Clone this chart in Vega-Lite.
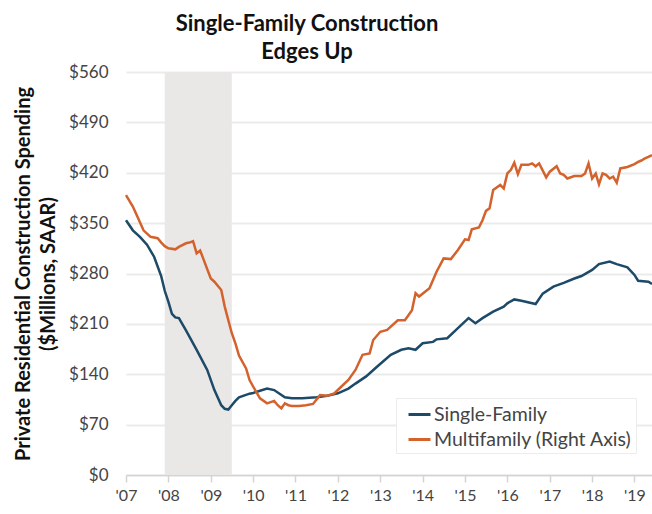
{
  "$schema": "https://vega.github.io/schema/vega-lite/v6.json",
  "width": 526,
  "height": 403,
  "autosize": {"type": "none"},
  "padding": {"left": 126, "top": 72, "right": 0, "bottom": 39},
  "background": "white",
  "config": {"view": {"stroke": null}, "font": "Lato"},
  "title": {
    "text": ["Single-Family Construction", "Edges Up"],
    "font": "Lato", "fontSize": 22, "fontWeight": "bold", "color": "#111111",
    "anchor": "middle", "frame": "group", "dx": -82, "lineHeight": 28, "offset": -1
  },
  "datasets": {
    "lines": [
      {"date": "2007-01-01", "series": "Single-Family", "value": 354},
      {"date": "2007-03-01", "series": "Single-Family", "value": 340},
      {"date": "2007-05-01", "series": "Single-Family", "value": 331},
      {"date": "2007-07-01", "series": "Single-Family", "value": 320},
      {"date": "2007-09-01", "series": "Single-Family", "value": 303},
      {"date": "2007-11-01", "series": "Single-Family", "value": 276},
      {"date": "2007-12-01", "series": "Single-Family", "value": 256},
      {"date": "2008-01-01", "series": "Single-Family", "value": 241},
      {"date": "2008-02-01", "series": "Single-Family", "value": 224},
      {"date": "2008-03-01", "series": "Single-Family", "value": 219},
      {"date": "2008-04-01", "series": "Single-Family", "value": 218},
      {"date": "2008-06-01", "series": "Single-Family", "value": 201},
      {"date": "2008-09-01", "series": "Single-Family", "value": 174},
      {"date": "2008-12-01", "series": "Single-Family", "value": 146},
      {"date": "2009-02-01", "series": "Single-Family", "value": 118},
      {"date": "2009-04-01", "series": "Single-Family", "value": 97},
      {"date": "2009-05-01", "series": "Single-Family", "value": 92},
      {"date": "2009-06-01", "series": "Single-Family", "value": 91},
      {"date": "2009-07-01", "series": "Single-Family", "value": 97},
      {"date": "2009-08-01", "series": "Single-Family", "value": 103},
      {"date": "2009-09-01", "series": "Single-Family", "value": 108},
      {"date": "2009-12-01", "series": "Single-Family", "value": 113},
      {"date": "2010-01-01", "series": "Single-Family", "value": 114},
      {"date": "2010-03-01", "series": "Single-Family", "value": 117},
      {"date": "2010-05-01", "series": "Single-Family", "value": 120},
      {"date": "2010-07-01", "series": "Single-Family", "value": 118},
      {"date": "2010-10-01", "series": "Single-Family", "value": 108},
      {"date": "2010-12-01", "series": "Single-Family", "value": 106.5},
      {"date": "2011-03-01", "series": "Single-Family", "value": 106.5},
      {"date": "2011-07-01", "series": "Single-Family", "value": 108},
      {"date": "2011-10-01", "series": "Single-Family", "value": 110},
      {"date": "2012-01-01", "series": "Single-Family", "value": 113.5},
      {"date": "2012-04-01", "series": "Single-Family", "value": 120},
      {"date": "2012-06-01", "series": "Single-Family", "value": 127},
      {"date": "2012-09-01", "series": "Single-Family", "value": 137},
      {"date": "2012-12-01", "series": "Single-Family", "value": 150},
      {"date": "2013-04-01", "series": "Single-Family", "value": 167},
      {"date": "2013-07-01", "series": "Single-Family", "value": 174},
      {"date": "2013-09-01", "series": "Single-Family", "value": 176},
      {"date": "2013-11-01", "series": "Single-Family", "value": 174},
      {"date": "2014-01-01", "series": "Single-Family", "value": 183},
      {"date": "2014-04-01", "series": "Single-Family", "value": 185},
      {"date": "2014-05-01", "series": "Single-Family", "value": 188.5},
      {"date": "2014-08-01", "series": "Single-Family", "value": 190},
      {"date": "2014-11-01", "series": "Single-Family", "value": 204},
      {"date": "2015-02-01", "series": "Single-Family", "value": 218},
      {"date": "2015-04-01", "series": "Single-Family", "value": 211},
      {"date": "2015-06-01", "series": "Single-Family", "value": 218},
      {"date": "2015-09-01", "series": "Single-Family", "value": 227},
      {"date": "2015-12-01", "series": "Single-Family", "value": 234},
      {"date": "2016-01-01", "series": "Single-Family", "value": 238.6},
      {"date": "2016-03-01", "series": "Single-Family", "value": 244},
      {"date": "2016-05-01", "series": "Single-Family", "value": 242},
      {"date": "2016-09-01", "series": "Single-Family", "value": 237.6},
      {"date": "2016-11-01", "series": "Single-Family", "value": 252},
      {"date": "2017-02-01", "series": "Single-Family", "value": 261.7},
      {"date": "2017-05-01", "series": "Single-Family", "value": 267},
      {"date": "2017-08-01", "series": "Single-Family", "value": 273},
      {"date": "2017-10-01", "series": "Single-Family", "value": 276.5},
      {"date": "2018-01-01", "series": "Single-Family", "value": 285},
      {"date": "2018-03-01", "series": "Single-Family", "value": 293},
      {"date": "2018-06-01", "series": "Single-Family", "value": 296.5},
      {"date": "2018-08-01", "series": "Single-Family", "value": 293},
      {"date": "2018-11-01", "series": "Single-Family", "value": 288.6},
      {"date": "2019-01-01", "series": "Single-Family", "value": 278},
      {"date": "2019-02-01", "series": "Single-Family", "value": 270},
      {"date": "2019-05-01", "series": "Single-Family", "value": 268.6},
      {"date": "2019-06-01", "series": "Single-Family", "value": 265.4},
      {"date": "2007-01-01", "series": "Multifamily (Right Axis)", "value": 389},
      {"date": "2007-03-01", "series": "Multifamily (Right Axis)", "value": 373},
      {"date": "2007-04-01", "series": "Multifamily (Right Axis)", "value": 362},
      {"date": "2007-06-01", "series": "Multifamily (Right Axis)", "value": 340},
      {"date": "2007-08-01", "series": "Multifamily (Right Axis)", "value": 331},
      {"date": "2007-10-01", "series": "Multifamily (Right Axis)", "value": 329},
      {"date": "2007-11-01", "series": "Multifamily (Right Axis)", "value": 323},
      {"date": "2007-12-01", "series": "Multifamily (Right Axis)", "value": 318},
      {"date": "2008-01-01", "series": "Multifamily (Right Axis)", "value": 315},
      {"date": "2008-03-01", "series": "Multifamily (Right Axis)", "value": 313.6},
      {"date": "2008-04-01", "series": "Multifamily (Right Axis)", "value": 317},
      {"date": "2008-06-01", "series": "Multifamily (Right Axis)", "value": 322},
      {"date": "2008-07-01", "series": "Multifamily (Right Axis)", "value": 323},
      {"date": "2008-08-01", "series": "Multifamily (Right Axis)", "value": 325},
      {"date": "2008-09-01", "series": "Multifamily (Right Axis)", "value": 308},
      {"date": "2008-10-01", "series": "Multifamily (Right Axis)", "value": 312},
      {"date": "2008-11-01", "series": "Multifamily (Right Axis)", "value": 299},
      {"date": "2008-12-01", "series": "Multifamily (Right Axis)", "value": 286},
      {"date": "2009-01-01", "series": "Multifamily (Right Axis)", "value": 273},
      {"date": "2009-02-01", "series": "Multifamily (Right Axis)", "value": 268.6},
      {"date": "2009-04-01", "series": "Multifamily (Right Axis)", "value": 257},
      {"date": "2009-05-01", "series": "Multifamily (Right Axis)", "value": 234},
      {"date": "2009-06-01", "series": "Multifamily (Right Axis)", "value": 215},
      {"date": "2009-07-01", "series": "Multifamily (Right Axis)", "value": 197},
      {"date": "2009-08-01", "series": "Multifamily (Right Axis)", "value": 183},
      {"date": "2009-09-01", "series": "Multifamily (Right Axis)", "value": 166},
      {"date": "2009-11-01", "series": "Multifamily (Right Axis)", "value": 148},
      {"date": "2009-12-01", "series": "Multifamily (Right Axis)", "value": 132},
      {"date": "2010-01-01", "series": "Multifamily (Right Axis)", "value": 123},
      {"date": "2010-03-01", "series": "Multifamily (Right Axis)", "value": 106.5},
      {"date": "2010-05-01", "series": "Multifamily (Right Axis)", "value": 99.6},
      {"date": "2010-07-01", "series": "Multifamily (Right Axis)", "value": 103},
      {"date": "2010-08-01", "series": "Multifamily (Right Axis)", "value": 97},
      {"date": "2010-09-01", "series": "Multifamily (Right Axis)", "value": 92.6},
      {"date": "2010-10-01", "series": "Multifamily (Right Axis)", "value": 99.6},
      {"date": "2010-11-01", "series": "Multifamily (Right Axis)", "value": 97},
      {"date": "2010-12-01", "series": "Multifamily (Right Axis)", "value": 96},
      {"date": "2011-02-01", "series": "Multifamily (Right Axis)", "value": 96},
      {"date": "2011-04-01", "series": "Multifamily (Right Axis)", "value": 97},
      {"date": "2011-06-01", "series": "Multifamily (Right Axis)", "value": 98.7},
      {"date": "2011-08-01", "series": "Multifamily (Right Axis)", "value": 111},
      {"date": "2011-10-01", "series": "Multifamily (Right Axis)", "value": 110},
      {"date": "2011-12-01", "series": "Multifamily (Right Axis)", "value": 113.5},
      {"date": "2012-02-01", "series": "Multifamily (Right Axis)", "value": 123},
      {"date": "2012-04-01", "series": "Multifamily (Right Axis)", "value": 132},
      {"date": "2012-06-01", "series": "Multifamily (Right Axis)", "value": 146},
      {"date": "2012-08-01", "series": "Multifamily (Right Axis)", "value": 167},
      {"date": "2012-10-01", "series": "Multifamily (Right Axis)", "value": 169},
      {"date": "2012-11-01", "series": "Multifamily (Right Axis)", "value": 187.6},
      {"date": "2013-01-01", "series": "Multifamily (Right Axis)", "value": 199},
      {"date": "2013-03-01", "series": "Multifamily (Right Axis)", "value": 201.5},
      {"date": "2013-06-01", "series": "Multifamily (Right Axis)", "value": 215},
      {"date": "2013-08-01", "series": "Multifamily (Right Axis)", "value": 215},
      {"date": "2013-10-01", "series": "Multifamily (Right Axis)", "value": 229},
      {"date": "2013-11-01", "series": "Multifamily (Right Axis)", "value": 252.5},
      {"date": "2013-12-01", "series": "Multifamily (Right Axis)", "value": 248},
      {"date": "2014-03-01", "series": "Multifamily (Right Axis)", "value": 259.4},
      {"date": "2014-05-01", "series": "Multifamily (Right Axis)", "value": 282.5},
      {"date": "2014-07-01", "series": "Multifamily (Right Axis)", "value": 301},
      {"date": "2014-09-01", "series": "Multifamily (Right Axis)", "value": 300},
      {"date": "2014-11-01", "series": "Multifamily (Right Axis)", "value": 312.7},
      {"date": "2015-01-01", "series": "Multifamily (Right Axis)", "value": 327.5},
      {"date": "2015-02-01", "series": "Multifamily (Right Axis)", "value": 326.6},
      {"date": "2015-03-01", "series": "Multifamily (Right Axis)", "value": 341.4},
      {"date": "2015-05-01", "series": "Multifamily (Right Axis)", "value": 344},
      {"date": "2015-06-01", "series": "Multifamily (Right Axis)", "value": 354},
      {"date": "2015-07-01", "series": "Multifamily (Right Axis)", "value": 367},
      {"date": "2015-08-01", "series": "Multifamily (Right Axis)", "value": 370.6},
      {"date": "2015-09-01", "series": "Multifamily (Right Axis)", "value": 396},
      {"date": "2015-11-01", "series": "Multifamily (Right Axis)", "value": 403},
      {"date": "2015-12-01", "series": "Multifamily (Right Axis)", "value": 398},
      {"date": "2016-01-01", "series": "Multifamily (Right Axis)", "value": 419},
      {"date": "2016-02-01", "series": "Multifamily (Right Axis)", "value": 424},
      {"date": "2016-03-01", "series": "Multifamily (Right Axis)", "value": 434},
      {"date": "2016-04-01", "series": "Multifamily (Right Axis)", "value": 418},
      {"date": "2016-05-01", "series": "Multifamily (Right Axis)", "value": 431},
      {"date": "2016-07-01", "series": "Multifamily (Right Axis)", "value": 431},
      {"date": "2016-08-01", "series": "Multifamily (Right Axis)", "value": 433},
      {"date": "2016-09-01", "series": "Multifamily (Right Axis)", "value": 429},
      {"date": "2016-10-01", "series": "Multifamily (Right Axis)", "value": 433},
      {"date": "2016-12-01", "series": "Multifamily (Right Axis)", "value": 413.6},
      {"date": "2017-01-01", "series": "Multifamily (Right Axis)", "value": 421.5},
      {"date": "2017-03-01", "series": "Multifamily (Right Axis)", "value": 429},
      {"date": "2017-04-01", "series": "Multifamily (Right Axis)", "value": 419},
      {"date": "2017-05-01", "series": "Multifamily (Right Axis)", "value": 417},
      {"date": "2017-06-01", "series": "Multifamily (Right Axis)", "value": 412},
      {"date": "2017-08-01", "series": "Multifamily (Right Axis)", "value": 415.5},
      {"date": "2017-10-01", "series": "Multifamily (Right Axis)", "value": 415.5},
      {"date": "2017-11-01", "series": "Multifamily (Right Axis)", "value": 419},
      {"date": "2017-12-01", "series": "Multifamily (Right Axis)", "value": 433},
      {"date": "2018-01-01", "series": "Multifamily (Right Axis)", "value": 412},
      {"date": "2018-02-01", "series": "Multifamily (Right Axis)", "value": 419},
      {"date": "2018-03-01", "series": "Multifamily (Right Axis)", "value": 404},
      {"date": "2018-04-01", "series": "Multifamily (Right Axis)", "value": 419},
      {"date": "2018-05-01", "series": "Multifamily (Right Axis)", "value": 417},
      {"date": "2018-06-01", "series": "Multifamily (Right Axis)", "value": 412},
      {"date": "2018-07-01", "series": "Multifamily (Right Axis)", "value": 414.5},
      {"date": "2018-08-01", "series": "Multifamily (Right Axis)", "value": 406},
      {"date": "2018-09-01", "series": "Multifamily (Right Axis)", "value": 426},
      {"date": "2018-11-01", "series": "Multifamily (Right Axis)", "value": 428},
      {"date": "2019-01-01", "series": "Multifamily (Right Axis)", "value": 432},
      {"date": "2019-02-01", "series": "Multifamily (Right Axis)", "value": 435},
      {"date": "2019-03-01", "series": "Multifamily (Right Axis)", "value": 437},
      {"date": "2019-04-01", "series": "Multifamily (Right Axis)", "value": 440},
      {"date": "2019-05-01", "series": "Multifamily (Right Axis)", "value": 442},
      {"date": "2019-06-01", "series": "Multifamily (Right Axis)", "value": 444.7}
    ],
    "recession": [{"start": "2007-12-01", "end": "2009-07-01"}]
  },
  "layer": [
    {
      "data": {"name": "recession"},
      "mark": {"type": "rect", "color": "#e9e8e6"},
      "encoding": {
        "x": {"field": "start", "type": "temporal", "title": null,
              "scale": {"type": "utc", "domain": [{"year": 2007, "month": 1, "date": 1, "utc": true}, {"year": 2019, "month": 6, "date": 1, "utc": true}]}},
        "x2": {"field": "end"}
      }
    },
    {
      "data": {"name": "lines"},
      "mark": {"type": "line", "strokeWidth": 2.5},
      "encoding": {
        "x": {"field": "date", "type": "temporal", "title": null,
              "scale": {"type": "utc", "domain": [{"year": 2007, "month": 1, "date": 1, "utc": true}, {"year": 2019, "month": 6, "date": 1, "utc": true}]},
              "axis": {"labelExpr": "\"'\" + utcFormat(datum.value, '%y')", "tickCount": {"interval": "year", "step": 1},
                       "grid": false, "domainColor": "#d4d4d4", "domainWidth": 1.5, "tickColor": "#d4d4d4", "tickWidth": 1.5, "tickSize": 7,
                       "labelFont": "Lato", "labelFontSize": 16, "labelColor": "#444444", "labelPadding": 5, "labelFlush": false, "labelOverlap": false}},
        "y": {"field": "value", "type": "quantitative",
              "scale": {"domain": [0, 560], "nice": false, "zero": true},
              "axis": {"values": [0, 70, 140, 210, 280, 350, 420, 490, 560], "labelExpr": "'$' + datum.value",
                       "grid": true, "gridColor": "#ebebeb", "gridWidth": 2, "ticks": false, "domain": false,
                       "labelFont": "Lato", "labelFontSize": 17, "labelColor": "#444444", "labelPadding": 18,
                       "title": ["Private Residential Construction Spending", "($Millions, SAAR)"],
                       "titleFont": "Lato", "titleFontSize": 20, "titleFontWeight": "bold", "titleColor": "#111111",
                       "titleLineHeight": 25, "titlePadding": 10}},
        "color": {"field": "series", "type": "nominal",
                  "scale": {"domain": ["Single-Family", "Multifamily (Right Axis)"], "range": ["#1d4a68", "#d4622c"]},
                  "legend": {"title": null, "orient": "none", "legendX": 270, "legendY": 326, "direction": "vertical",
                             "fillColor": "white", "strokeColor": "#ececec", "padding": 4,
                             "symbolType": "stroke", "symbolSize": 484, "symbolStrokeWidth": 3, "symbolOffset": 7,
                             "labelFont": "Lato", "labelFontSize": 19.5, "labelColor": "#444444", "labelOffset": 2, "rowPadding": 3, "labelLimit": 400}}
      }
    }
  ]
}
